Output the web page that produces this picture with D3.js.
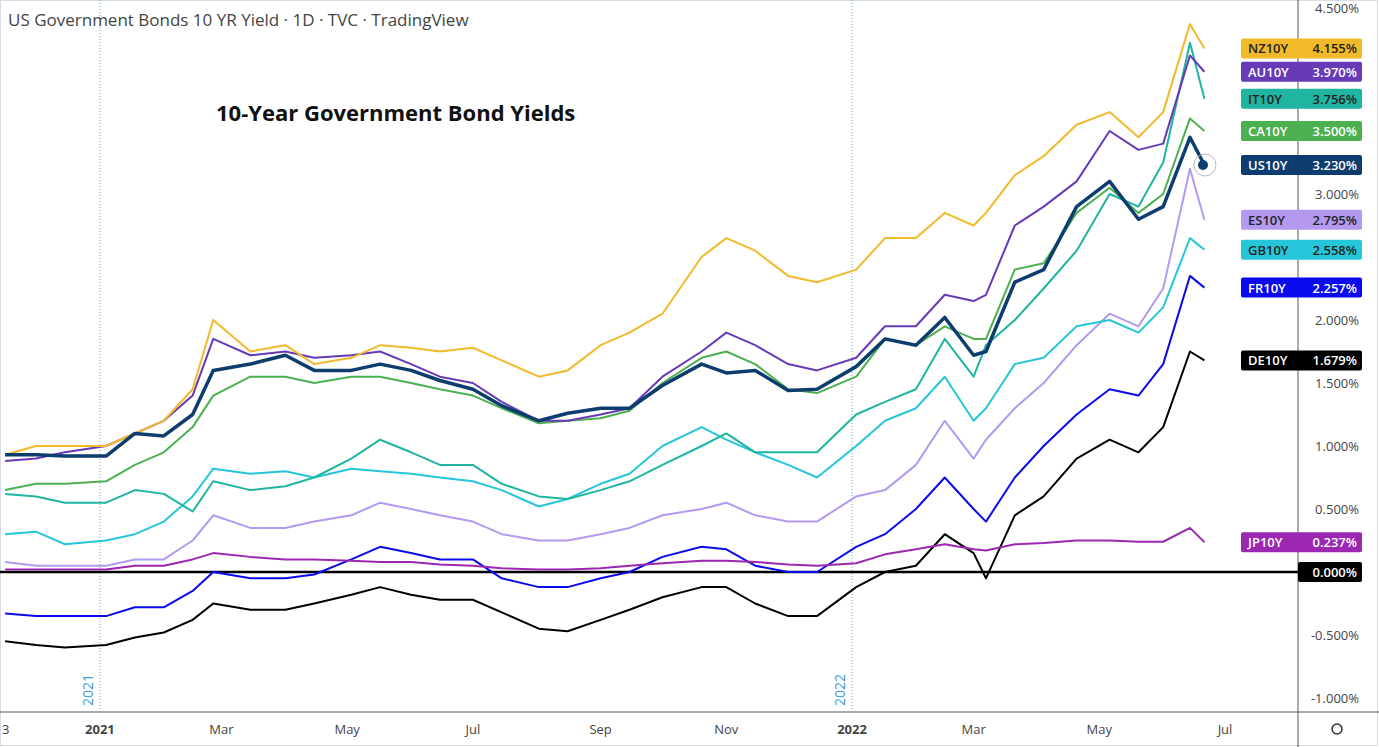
<!DOCTYPE html>
<html>
<head>
<meta charset="utf-8">
<script src="https://d3js.org/d3.v7.min.js"></script>
<style>
body { margin: 0; background: #fff; }
svg { font-family: "Open Sans", "DejaVu Sans", sans-serif; }
</style>
</head>
<body>
<svg width="1379" height="747"></svg>
<script>
var dates = ['2020-11-16','2020-12-01','2020-12-15','2021-01-04','2021-01-18','2021-02-01','2021-02-15','2021-02-25',
  '2021-03-15','2021-04-01','2021-04-15','2021-05-03','2021-05-17','2021-06-01','2021-06-15','2021-07-01','2021-07-15',
  '2021-08-02','2021-08-16','2021-09-01','2021-09-15','2021-10-01','2021-10-20','2021-11-01','2021-11-15','2021-12-01',
  '2021-12-15','2022-01-03','2022-01-17','2022-02-01','2022-02-15','2022-03-01','2022-03-07','2022-03-21','2022-04-04',
  '2022-04-20','2022-05-06','2022-05-20','2022-06-01','2022-06-14','2022-06-21'];

var nz = [0.93,1.00,1.00,1.00,1.10,1.20,1.45,2.00,1.75,1.80,1.65,1.70,1.80,1.78,1.75,1.78,1.68,1.55,1.60,1.80,1.90,2.05,2.50,2.65,2.55,2.35,2.30,2.40,2.65,2.65,2.85,2.75,2.85,3.15,3.30,3.55,3.65,3.45,3.65,4.35,4.155];
var au = [0.88,0.90,0.95,1.00,1.10,1.20,1.40,1.85,1.72,1.75,1.70,1.72,1.75,1.65,1.55,1.50,1.35,1.20,1.20,1.25,1.30,1.55,1.75,1.90,1.80,1.65,1.60,1.70,1.95,1.95,2.20,2.15,2.20,2.75,2.90,3.10,3.50,3.35,3.40,4.10,3.970];
var it = [0.62,0.60,0.55,0.55,0.65,0.62,0.48,0.72,0.65,0.68,0.75,0.90,1.05,0.95,0.85,0.85,0.70,0.60,0.58,0.65,0.72,0.85,1.00,1.10,0.95,0.95,0.95,1.25,1.35,1.45,1.85,1.55,1.80,2.00,2.25,2.55,3.00,2.90,3.25,4.20,3.756];
var ca = [0.65,0.70,0.70,0.72,0.85,0.95,1.15,1.40,1.55,1.55,1.50,1.55,1.55,1.50,1.45,1.40,1.30,1.18,1.20,1.22,1.28,1.50,1.70,1.75,1.65,1.45,1.42,1.55,1.85,1.80,1.95,1.85,1.85,2.40,2.45,2.85,3.05,2.85,3.00,3.60,3.500];
var us = [0.93,0.93,0.92,0.92,1.10,1.08,1.25,1.60,1.65,1.72,1.60,1.60,1.65,1.60,1.52,1.45,1.32,1.20,1.26,1.30,1.30,1.48,1.65,1.58,1.60,1.44,1.45,1.63,1.85,1.80,2.02,1.72,1.75,2.30,2.40,2.90,3.10,2.80,2.90,3.45,3.230];
var es = [0.08,0.05,0.05,0.05,0.10,0.10,0.25,0.45,0.35,0.35,0.40,0.45,0.55,0.50,0.45,0.40,0.30,0.25,0.25,0.30,0.35,0.45,0.50,0.55,0.45,0.40,0.40,0.60,0.65,0.85,1.20,0.90,1.05,1.30,1.50,1.80,2.05,1.95,2.25,3.20,2.795];
var gb = [0.30,0.32,0.22,0.25,0.30,0.40,0.60,0.82,0.78,0.80,0.75,0.82,0.80,0.78,0.75,0.72,0.65,0.52,0.58,0.70,0.78,1.00,1.15,1.05,0.95,0.85,0.75,1.00,1.20,1.30,1.55,1.20,1.30,1.65,1.70,1.95,2.00,1.90,2.10,2.65,2.558];
var fr = [-0.33,-0.35,-0.35,-0.35,-0.28,-0.28,-0.15,0.00,-0.05,-0.05,-0.02,0.10,0.20,0.15,0.10,0.10,-0.05,-0.12,-0.12,-0.05,0.00,0.12,0.20,0.18,0.05,0.00,0.00,0.20,0.30,0.50,0.75,0.50,0.40,0.75,1.00,1.25,1.45,1.40,1.65,2.35,2.257];
var de = [-0.55,-0.58,-0.60,-0.58,-0.52,-0.48,-0.38,-0.25,-0.30,-0.30,-0.25,-0.18,-0.12,-0.18,-0.22,-0.22,-0.32,-0.45,-0.47,-0.38,-0.30,-0.20,-0.12,-0.12,-0.25,-0.35,-0.35,-0.12,0.00,0.05,0.30,0.15,-0.05,0.45,0.60,0.90,1.05,0.95,1.15,1.75,1.679];
var jp = [0.02,0.02,0.02,0.02,0.05,0.05,0.10,0.15,0.12,0.10,0.10,0.09,0.08,0.08,0.06,0.05,0.03,0.02,0.02,0.03,0.05,0.07,0.09,0.09,0.08,0.06,0.05,0.07,0.14,0.18,0.22,0.18,0.17,0.22,0.23,0.25,0.25,0.24,0.24,0.35,0.237];

var names = ['NZ10Y','AU10Y','IT10Y','CA10Y','US10Y','ES10Y','GB10Y','FR10Y','DE10Y','JP10Y'];
var colors = ['#f2b92b','#673ab7','#1fb5a0','#4caf50','#0d3c6e','#b39af0','#26c6da','#0a0aee','#000000','#9c27b0'];
var textColors = ['#222','#fff','#222','#fff','#fff','#222','#222','#fff','#fff','#fff'];
var values = [nz, au, it, ca, us, es, gb, fr, de, jp];
var yTicks = [4.5, 3.0, 2.0, 1.5, 1.0, 0.5, 0.0, -0.5, -1.0];
var monthTicks = ['2021-01-01','2021-03-01','2021-05-01','2021-07-01','2021-09-01','2021-11-01','2022-01-01','2022-03-01','2022-05-01','2022-07-01'];
var monthLabels = ['2021','Mar','May','Jul','Sep','Nov','2022','Mar','May','Jul'];

var parse = d3.timeParse('%Y-%m-%d');
var svg = d3.select('svg');
var PR = 1298, PB = 712;

var x = d3.scaleTime().domain([parse('2020-11-14'), parse('2022-07-01')]).range([1, 1225]);
var y = d3.scaleLinear().domain([0, 4.5]).range([572, 5]);

// frame
svg.append('rect').attr('x', 0.5).attr('y', 0.5).attr('width', 1377).attr('height', 745).attr('fill', 'none').attr('stroke', '#d6dce6');
svg.append('line').attr('x1', PR).attr('x2', PR).attr('y1', 0).attr('y2', 747).attr('stroke', '#555');
svg.append('line').attr('x1', 0).attr('x2', 1379).attr('y1', PB).attr('y2', PB).attr('stroke', '#555');

// year separators
['2021-01-01', '2022-01-01'].forEach(function (d, i) {
  var xx = x(parse(d));
  svg.append('line').attr('x1', xx).attr('x2', xx).attr('y1', 0).attr('y2', PB)
    .attr('stroke', '#5aaed8').attr('stroke-dasharray', '1,2');
  svg.append('text').attr('transform', 'translate(' + (xx - 7) + ',' + (PB - 6) + ') rotate(-90)')
    .attr('fill', '#3a9ad9').attr('font-size', 14).text(i ? '2022' : '2021');
});

// zero line
svg.append('line').attr('x1', 0).attr('x2', PR).attr('y1', y(0)).attr('y2', y(0)).attr('stroke', '#000').attr('stroke-width', 2.5);

var line = d3.line().x(function (d, i) { return x(parse(dates[i])); }).y(function (d) { return y(d); });
var order = [8, 7, 9, 5, 6, 2, 3, 1, 0, 4];
order.forEach(function (k) {
  svg.append('path').datum(values[k]).attr('d', line).attr('fill', 'none')
    .attr('stroke', colors[k]).attr('stroke-width', k === 4 ? 3.5 : 2).attr('stroke-linejoin', 'round');
});

// last US dot
var usLast = us[us.length - 1];
svg.append('circle').attr('cx', 1205).attr('cy', y(usLast)).attr('r', 11).attr('fill', 'none').attr('stroke', '#bbb');
svg.append('circle').attr('cx', 1203).attr('cy', y(usLast)).attr('r', 5).attr('fill', '#0d3c6e');

// right axis ticks
svg.selectAll('.yt').data(yTicks).enter().append('text')
  .attr('x', 1359).attr('y', function (d) { return d === 4.5 ? 13 : y(d) + 5; }).attr('text-anchor', 'end')
  .attr('font-size', 13).attr('fill', '#444')
  .text(function (d) { return d.toFixed(3) + '%'; });

// zero label box
svg.append('rect').attr('x', 1298).attr('y', y(0) - 10).attr('width', 64).attr('height', 20).attr('rx', 2).attr('fill', '#000');
svg.append('text').attr('x', 1357).attr('y', y(0) + 5).attr('text-anchor', 'end').attr('font-size', 13).attr('font-weight', 600).attr('fill', '#fff').text('0.000%');

// series labels
names.forEach(function (n, k) {
  var v = values[k][values[k].length - 1];
  var yy = y(v);
  var g = svg.append('g');
  g.append('rect').attr('x', 1241).attr('y', yy - 10).attr('width', 121).attr('height', 20).attr('rx', 2).attr('fill', colors[k]);
  g.append('text').attr('x', 1248).attr('y', yy + 5).attr('font-size', 13).attr('fill', textColors[k]).attr('font-weight', 600).text(n);
  g.append('text').attr('x', 1357).attr('y', yy + 5).attr('text-anchor', 'end').attr('font-size', 13).attr('fill', textColors[k]).attr('font-weight', 600).text(v.toFixed(3) + '%');
});

// bottom axis
svg.selectAll('.mt').data(monthTicks).enter().append('text')
  .attr('x', function (d) { return x(parse(d)); }).attr('y', 734).attr('text-anchor', 'middle')
  .attr('font-size', 13).attr('fill', '#444')
  .attr('font-weight', function (d, i) { return monthLabels[i].length === 4 ? 700 : 400; })
  .text(function (d, i) { return monthLabels[i]; });
svg.append('text').attr('x', 2).attr('y', 734).attr('font-size', 13).attr('fill', '#444').text('3');

// settings icon
svg.append('circle').attr('cx', 1337).attr('cy', 729).attr('r', 5).attr('fill', 'none').attr('stroke', '#333').attr('stroke-width', 1.5);

// titles
svg.append('text').attr('x', 8).attr('y', 26).attr('font-size', 17).attr('fill', '#444')
  .text('US Government Bonds 10 YR Yield · 1D · TVC · TradingView');
svg.append('text').attr('x', 216).attr('y', 121).attr('font-size', 22).attr('font-weight', 700).attr('fill', '#111')
  .text('10-Year Government Bond Yields');
</script>
</body>
</html>
